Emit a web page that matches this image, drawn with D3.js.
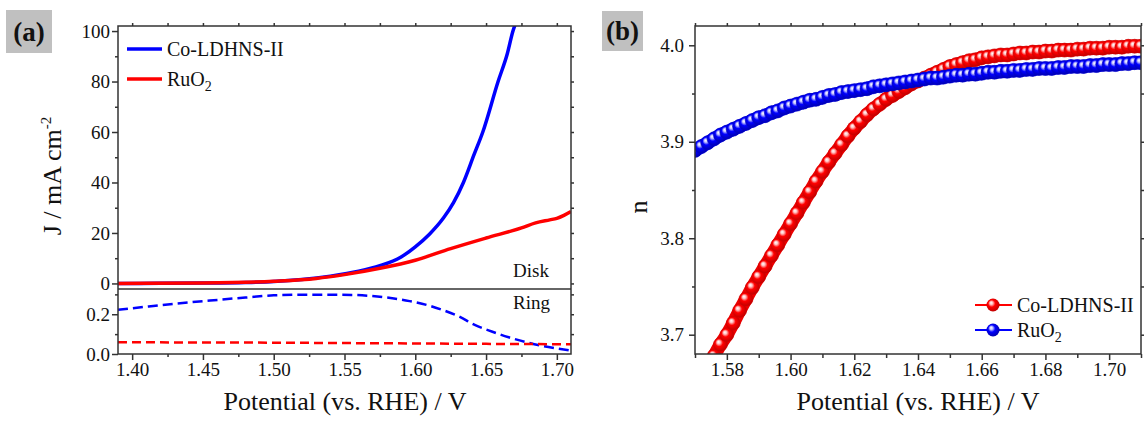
<!DOCTYPE html>
<html>
<head>
<meta charset="utf-8">
<script src="https://cdn.jsdelivr.net/npm/d3@7"></script>
<style>
  html, body { margin: 0; padding: 0; background: #fff; }
  svg { display: block; font-family: "Liberation Serif", "Times New Roman", serif; }
</style>
</head>
<body>
<div id="chart"></div>
<script>
// ---- panel (a): disk current, J / mA cm-2
const diskPotCo = [1.39, 1.42, 1.45, 1.48, 1.50, 1.52, 1.54, 1.56, 1.575, 1.59, 1.60, 1.61, 1.62, 1.627, 1.634, 1.6415, 1.6477, 1.6585, 1.665, 1.669, 1.6715];
const diskJCo   = [0, 0.05, 0.15, 0.4, 0.8, 1.6, 2.9, 4.8, 7.0, 10.5, 14.5, 19.5, 26, 32, 40, 51, 60, 80, 91, 100, 104];
const diskPotRu = [1.39, 1.45, 1.50, 1.53, 1.55, 1.575, 1.60, 1.625, 1.65, 1.675, 1.685, 1.695, 1.70, 1.705, 1.71];
const diskJRu   = [0, 0.2, 0.9, 2.0, 3.5, 6.0, 9.2, 13.8, 18.0, 22.0, 24.0, 25.2, 25.8, 27.0, 28.5];

// ---- panel (a): ring current
const ringPotCo = [1.39, 1.41, 1.43, 1.455, 1.48, 1.50, 1.52, 1.537, 1.555, 1.567, 1.58, 1.596, 1.61, 1.619, 1.63, 1.642, 1.654, 1.666, 1.678, 1.689, 1.70, 1.71];
const ringICo   = [0.222, 0.238, 0.253, 0.269, 0.284, 0.295, 0.298, 0.298, 0.297, 0.293, 0.284, 0.266, 0.243, 0.222, 0.192, 0.146, 0.113, 0.084, 0.060, 0.042, 0.028, 0.017];
const ringPotRu = [1.39, 1.45, 1.50, 1.55, 1.60, 1.65, 1.71];
const ringIRu   = [0.059, 0.058, 0.057, 0.055, 0.053, 0.051, 0.049];

// ---- panel (b): electron transfer number n
const nPotCo = [1.576, 1.578, 1.580, 1.582, 1.584, 1.586, 1.588, 1.590, 1.592, 1.594, 1.596, 1.598,
  1.600, 1.602, 1.604, 1.606, 1.608, 1.610, 1.612, 1.614, 1.616, 1.618, 1.620, 1.622, 1.624, 1.626, 1.628,
  1.630, 1.632, 1.634, 1.636, 1.638, 1.640, 1.642, 1.644, 1.646, 1.648, 1.650, 1.652, 1.654, 1.656, 1.658,
  1.660, 1.662, 1.664, 1.666, 1.668, 1.670, 1.672, 1.674, 1.676, 1.678, 1.680, 1.682, 1.684, 1.686, 1.688,
  1.690, 1.692, 1.694, 1.696, 1.698, 1.700, 1.702, 1.704, 1.706, 1.708, 1.710];
const nCo = [3.678, 3.690, 3.700, 3.712, 3.725, 3.737, 3.749, 3.760, 3.771, 3.782, 3.793, 3.804,
  3.815, 3.826, 3.837, 3.848, 3.859, 3.869, 3.879, 3.888, 3.897, 3.906, 3.914, 3.921, 3.928, 3.934, 3.939,
  3.944, 3.948, 3.952, 3.956, 3.960, 3.963, 3.966, 3.969, 3.972, 3.975, 3.978, 3.980, 3.982, 3.984, 3.985,
  3.987, 3.988, 3.989, 3.990, 3.990, 3.991, 3.992, 3.992, 3.993, 3.993, 3.994, 3.994, 3.995, 3.995, 3.995,
  3.996, 3.996, 3.997, 3.997, 3.997, 3.998, 3.998, 3.998, 3.999, 3.999, 3.999];
const nPotRu = [1.570, 1.572, 1.574, 1.576, 1.578, 1.580, 1.582, 1.584, 1.586, 1.588, 1.590, 1.592, 1.594, 1.596, 1.598,
  1.600, 1.602, 1.604, 1.606, 1.608, 1.610, 1.612, 1.614, 1.616, 1.618, 1.620, 1.622, 1.624, 1.626, 1.628,
  1.630, 1.632, 1.634, 1.636, 1.638, 1.640, 1.642, 1.644, 1.646, 1.648, 1.650, 1.652, 1.654, 1.656, 1.658,
  1.660, 1.662, 1.664, 1.666, 1.668, 1.670, 1.672, 1.674, 1.676, 1.678, 1.680, 1.682, 1.684, 1.686, 1.688,
  1.690, 1.692, 1.694, 1.696, 1.698, 1.700, 1.702, 1.704, 1.706, 1.708, 1.710];
const nRu = [3.891, 3.895, 3.899, 3.903, 3.907, 3.910, 3.913, 3.916, 3.919, 3.922, 3.925, 3.927, 3.930, 3.932, 3.935,
  3.937, 3.939, 3.941, 3.943, 3.944, 3.946, 3.948, 3.949, 3.951, 3.952, 3.953, 3.954, 3.955, 3.957, 3.958,
  3.959, 3.960, 3.961, 3.962, 3.963, 3.964, 3.965, 3.966, 3.966, 3.967, 3.968, 3.969, 3.969, 3.970, 3.970,
  3.971, 3.972, 3.972, 3.973, 3.973, 3.974, 3.974, 3.975, 3.975, 3.976, 3.976, 3.976, 3.977, 3.977, 3.978,
  3.978, 3.978, 3.979, 3.979, 3.980, 3.980, 3.980, 3.981, 3.981, 3.982, 3.982];

// ticks
const xTicksA = [1.40, 1.45, 1.50, 1.55, 1.60, 1.65, 1.70];
const xMinorA = [1.425, 1.475, 1.525, 1.575, 1.625, 1.675];
const diskTicks = [0, 20, 40, 60, 80, 100];
const diskMinor = [10, 30, 50, 70, 90];
const ringTicks = [0.0, 0.2];
const ringMinor = [0.1, 0.3];
const xTicksB = [1.58, 1.60, 1.62, 1.64, 1.66, 1.68, 1.70];
const xMinorB = [1.57, 1.59, 1.61, 1.63, 1.65, 1.67, 1.69, 1.71];
const nTicks = [3.7, 3.8, 3.9, 4.0];
const nMinor = [3.75, 3.85, 3.95];

const BLUE = '#0000ff', RED = '#ff0000', AX = '#333';

const svg = d3.select('#chart').append('svg')
  .attr('width', 1144).attr('height', 422);

const defs = svg.append('defs');
[['ballRed', '#ffc0c0', RED, '#c00000'], ['ballBlue', '#c0c0ff', BLUE, '#0000b0']].forEach(([id, lite, mid, dark]) => {
  const g = defs.append('radialGradient').attr('id', id)
    .attr('cx', '45%').attr('cy', '45%').attr('r', '55%').attr('fx', '35%').attr('fy', '32%');
  g.append('stop').attr('offset', '0%').attr('stop-color', '#ffffff');
  g.append('stop').attr('offset', '22%').attr('stop-color', lite);
  g.append('stop').attr('offset', '50%').attr('stop-color', mid);
  g.append('stop').attr('offset', '100%').attr('stop-color', dark);
});

function clip(id, x0, y0, x1, y1) {
  defs.append('clipPath').attr('id', id).append('rect')
    .attr('x', x0).attr('y', y0).attr('width', x1 - x0).attr('height', y1 - y0);
}

// scales
const xA = d3.scaleLinear([1.39, 1.71], [118, 571]);
const yDisk = d3.scaleLinear([-2.2, 102], [289, 26]);
const yRing = d3.scaleLinear([0, 0.327], [354, 289]);
const xB = d3.scaleLinear([1.57, 1.71], [695, 1141]);
const yB = d3.scaleLinear([3.68, 4.02], [354, 26]);

clip('clipDisk', 118, 26, 571, 289);
clip('clipRing', 118, 289, 571, 354);
clip('clipB', 695, 26, 1141, 354);

function styleAxis(g, fontSize) {
  g.select('.domain').remove();
  g.selectAll('line').attr('stroke', AX).attr('stroke-width', 1.5);
  g.selectAll('text').attr('fill', '#111').style('font-size', fontSize + 'px')
    .style('font-family', '"Liberation Serif", serif');
}

function addAxis(axisFn, scale, pos, values, fmt, size, pad) {
  const ax = axisFn(scale).tickValues(values).tickSize(size).tickSizeOuter(0).tickPadding(pad || 3);
  ax.tickFormat(fmt ? d3.format(fmt) : '');
  const g = svg.append('g').attr('transform', pos).call(ax);
  styleAxis(g, 19);
  return g;
}

// ---------------- panel (a) ----------------
addAxis(d3.axisBottom, xA, 'translate(0,354)', xTicksA, '.2f', 6, 3);
addAxis(d3.axisBottom, xA, 'translate(0,354)', xMinorA, null, 3);
addAxis(d3.axisTop, xA, 'translate(0,26)', xTicksA.concat(xMinorA), null, 3);
addAxis(d3.axisLeft, yDisk, 'translate(118,0)', diskTicks, 'd', 6, 2);
addAxis(d3.axisLeft, yDisk, 'translate(118,0)', diskMinor, null, 3);
addAxis(d3.axisRight, yDisk, 'translate(571,0)', diskTicks.concat(diskMinor), null, 3);
addAxis(d3.axisLeft, yRing, 'translate(118,0)', ringTicks, '.1f', 6, 2);
addAxis(d3.axisLeft, yRing, 'translate(118,0)', ringMinor, null, 3);
addAxis(d3.axisRight, yRing, 'translate(571,0)', ringTicks.concat(ringMinor).filter(v => v > 0), null, 3);

const lineDisk = d3.line().x(d => xA(d[0])).y(d => yDisk(d[1])).curve(d3.curveMonotoneX);
const lineRing = d3.line().x(d => xA(d[0])).y(d => yRing(d[1])).curve(d3.curveMonotoneX);

const gDisk = svg.append('g').attr('clip-path', 'url(#clipDisk)');
gDisk.append('path').datum(d3.zip(diskPotCo, diskJCo))
  .attr('d', lineDisk).attr('fill', 'none').attr('stroke', BLUE).attr('stroke-width', 3.5);
gDisk.append('path').datum(d3.zip(diskPotRu, diskJRu))
  .attr('d', lineDisk).attr('fill', 'none').attr('stroke', RED).attr('stroke-width', 3.5);

const gRing = svg.append('g').attr('clip-path', 'url(#clipRing)');
gRing.append('path').datum(d3.zip(ringPotCo, ringICo))
  .attr('d', lineRing).attr('fill', 'none').attr('stroke', BLUE).attr('stroke-width', 2.5)
  .attr('stroke-dasharray', '10,5');
gRing.append('path').datum(d3.zip(ringPotRu, ringIRu))
  .attr('d', lineRing).attr('fill', 'none').attr('stroke', RED).attr('stroke-width', 2.5)
  .attr('stroke-dasharray', '9,5');

svg.append('rect').attr('x', 118).attr('y', 26).attr('width', 453).attr('height', 328)
  .attr('fill', 'none').attr('stroke', AX).attr('stroke-width', 1.5);
svg.append('line').attr('x1', 118).attr('x2', 571).attr('y1', 289).attr('y2', 289)
  .attr('stroke', AX).attr('stroke-width', 1.5);

svg.append('text').attr('x', 549).attr('y', 277).attr('text-anchor', 'end')
  .style('font-size', '19px').attr('fill', '#111').text('Disk');
svg.append('text').attr('x', 550).attr('y', 309).attr('text-anchor', 'end')
  .style('font-size', '19px').attr('fill', '#111').text('Ring');

// legend (a)
const legA = [{ label: 'Co-LDHNS-II', color: BLUE, y: 49 }, { label: 'RuO', sub: '2', color: RED, y: 79 }];
legA.forEach(d => {
  svg.append('line').attr('x1', 127).attr('x2', 162).attr('y1', d.y).attr('y2', d.y)
    .attr('stroke', d.color).attr('stroke-width', 3.5);
  const t = svg.append('text').attr('x', 167).attr('y', d.y + 7)
    .style('font-size', '20px').attr('fill', '#111').text(d.label);
  if (d.sub) t.append('tspan').attr('dy', 5).style('font-size', '14px').text(d.sub);
});

// axis titles (a)
const yt = svg.append('text').attr('transform', 'translate(61,176) rotate(-90)')
  .attr('text-anchor', 'middle').style('font-size', '26px').attr('fill', '#111').text('J / mA cm');
yt.append('tspan').attr('dy', -10).style('font-size', '15px').text('-2');
svg.append('text').attr('x', 345).attr('y', 410).attr('text-anchor', 'middle')
  .style('font-size', '26px').attr('fill', '#111').text('Potential (vs. RHE) / V');

// panel label (a)
svg.append('rect').attr('x', 6).attr('y', 10).attr('width', 46).attr('height', 43).attr('fill', '#c0c0c0');
svg.append('text').attr('x', 29).attr('y', 41).attr('text-anchor', 'middle')
  .style('font-size', '27px').style('font-weight', 'bold').attr('fill', '#111').text('(a)');

// ---------------- panel (b) ----------------
addAxis(d3.axisBottom, xB, 'translate(0,354)', xTicksB, '.2f', 6, 3);
addAxis(d3.axisBottom, xB, 'translate(0,354)', xMinorB, null, 4);
addAxis(d3.axisTop, xB, 'translate(0,26)', xTicksB.concat(xMinorB), null, 3);
addAxis(d3.axisLeft, yB, 'translate(695,0)', nTicks, '.1f', 6, 5);
addAxis(d3.axisLeft, yB, 'translate(695,0)', nMinor, null, 3);
addAxis(d3.axisRight, yB, 'translate(1141,0)', nTicks.concat(nMinor), null, 3);

const lineB = d3.line().x(d => xB(d[0])).y(d => yB(d[1])).curve(d3.curveMonotoneX);
const gB = svg.append('g').attr('clip-path', 'url(#clipB)');
[
  { pot: nPotCo, n: nCo, band: '#ee0000', grad: 'ballRed', edge: '#d00000' },
  { pot: nPotRu, n: nRu, band: '#0000ee', grad: 'ballBlue', edge: '#0000c8' }
].forEach(s => {
  const pts = d3.zip(s.pot, s.n);
  gB.append('path').datum(pts).attr('d', lineB).attr('fill', 'none')
    .attr('stroke', s.band).attr('stroke-width', 13.5);
  gB.append('g').selectAll('circle').data(pts).enter().append('circle')
    .attr('cx', d => xB(d[0])).attr('cy', d => yB(d[1])).attr('r', 7)
    .attr('fill', `url(#${s.grad})`).attr('stroke', s.edge).attr('stroke-width', 0.6);
});

svg.append('rect').attr('x', 695).attr('y', 26).attr('width', 446).attr('height', 328)
  .attr('fill', 'none').attr('stroke', AX).attr('stroke-width', 1.5);

// legend (b)
const legB = [{ label: 'Co-LDHNS-II', color: RED, grad: 'ballRed', y: 305 }, { label: 'RuO', sub: '2', color: BLUE, grad: 'ballBlue', y: 330 }];
legB.forEach(d => {
  svg.append('line').attr('x1', 975).attr('x2', 1012).attr('y1', d.y).attr('y2', d.y)
    .attr('stroke', d.color).attr('stroke-width', 2);
  svg.append('circle').attr('cx', 993).attr('cy', d.y).attr('r', 6.5).attr('fill', `url(#${d.grad})`);
  const t = svg.append('text').attr('x', 1017).attr('y', d.y + 7)
    .style('font-size', '20px').attr('fill', '#111').text(d.label);
  if (d.sub) t.append('tspan').attr('dy', 5).style('font-size', '14px').text(d.sub);
});

svg.append('text').attr('transform', 'translate(647,207) rotate(-90)')
  .attr('text-anchor', 'middle').style('font-size', '26px').attr('fill', '#111').text('n');
svg.append('text').attr('x', 918).attr('y', 410).attr('text-anchor', 'middle')
  .style('font-size', '26px').attr('fill', '#111').text('Potential (vs. RHE) / V');

svg.append('rect').attr('x', 602).attr('y', 11).attr('width', 41).attr('height', 40).attr('fill', '#c0c0c0');
svg.append('text').attr('x', 622.5).attr('y', 40).attr('text-anchor', 'middle')
  .style('font-size', '27px').style('font-weight', 'bold').attr('fill', '#111').text('(b)');
</script>
</body>
</html>
